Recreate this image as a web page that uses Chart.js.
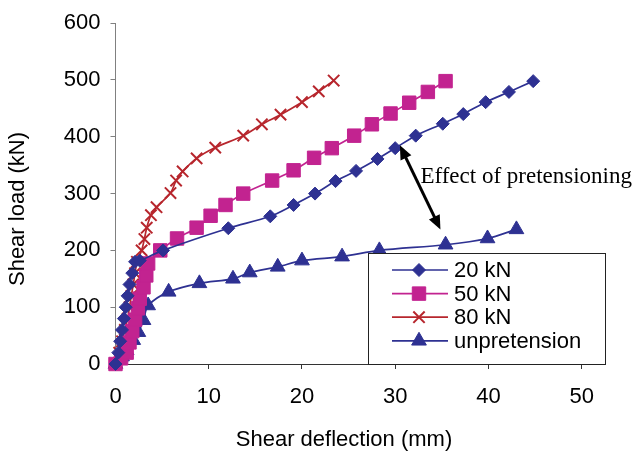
<!DOCTYPE html>
<html>
<head>
<meta charset="utf-8">
<title>Shear load vs shear deflection</title>
<script src="https://cdn.jsdelivr.net/npm/chart.js@4.4.1/dist/chart.umd.min.js"></script>
<style>
  html, body { margin: 0; padding: 0; background: #fff; }
  #wrap { width: 638px; height: 452px; position: relative; }
</style>
</head>
<body>
<div id="wrap"><canvas id="shearChart"></canvas></div>
<script>
// values: deflection in mm, load in kN
const kN20Defl = [0, 0.3, 0.5, 0.7, 0.9, 1.1, 1.3, 1.5, 1.8, 2.1, 2.6, 5.1, 12.1, 16.6, 19.1, 21.4, 23.6, 25.8, 28.1, 30.0, 32.2, 35.1, 37.3, 39.7, 42.2, 44.8];
const kN20Load = [0, 20, 40, 60, 80, 100, 120, 140, 160, 180, 182, 200, 239, 260, 280, 300, 322, 340, 361, 380, 402, 423, 440, 461, 479, 498];

const kN50Defl = [0, 0.6, 1.2, 1.5, 1.8, 2.1, 2.4, 2.6, 3.0, 3.3, 3.5, 4.8, 6.6, 8.7, 10.2, 11.8, 13.7, 16.8, 19.1, 21.3, 23.2, 25.6, 27.5, 29.5, 31.5, 33.5, 35.4];
const kN50Load = [0, 10, 20, 38, 58, 78, 98, 115, 135, 156, 177, 200, 221, 240, 261, 280, 300, 323, 341, 363, 380, 402, 422, 441, 460, 479, 498];

const kN80Defl = [0, 0.4, 0.7, 1.0, 1.3, 1.5, 1.7, 1.9, 2.1, 2.3, 2.8, 3.1, 3.35, 3.8, 4.4, 5.9, 6.5, 7.2, 8.7, 10.7, 13.7, 15.7, 17.7, 20.0, 21.8, 23.4];
const kN80Load = [0, 20, 40, 60, 80, 100, 120, 140, 160, 180, 200, 220, 240, 262, 276, 301, 323, 339, 362, 381, 402, 422, 439, 461, 480, 499];

const unpreDefl = [0, 0.7, 1.2, 1.9, 2.45, 3.0, 3.5, 5.7, 9.0, 12.6, 14.4, 17.4, 20.0, 24.3, 28.3, 35.4, 39.9, 43.0];
const unpreLoad = [0, 13, 24, 42, 56, 77, 103, 127, 142, 150, 161, 171, 182, 189, 200, 210, 221, 237];

const seriesNames = ['20 kN', '50 kN', '80 kN', 'unpretension'];
const xTickValues = [0, 10, 20, 30, 40, 50];
const yTickValues = [0, 100, 200, 300, 400, 500, 600];

const xTitle = 'Shear deflection (mm)';
const yTitle = 'Shear load (kN)';
const noteText = 'Effect of pretensioning';

const NAVY = '#2E3192';
const MAGENTA = '#C22390';
const RED = '#B7262D';

function toPoints(xs, ys) {
    return xs.map((x, i) => ({ x: x, y: ys[i] }));
}

function series(label, xs, ys, color, style, radius, bw) {
    return {
        label: label,
        data: toPoints(xs, ys),
        showLine: true,
        borderColor: color,
        backgroundColor: color,
        borderWidth: 1.7,
        tension: 0.3,
        pointStyle: style,
        pointRadius: radius,
        pointBorderWidth: bw,
        pointBackgroundColor: color,
        pointBorderColor: color,
        clip: false
    };
}

// --- legend box drawn inside the plot, like the original ---
const boxLegend = {
    id: 'boxLegend',
    afterDatasetsDraw(chart) {
        const ctx = chart.ctx;
        const area = chart.chartArea;
        const left = 368, top = 253;
        ctx.save();
        ctx.fillStyle = '#fff';
        ctx.fillRect(left, top, area.right - left, area.bottom - top);
        ctx.strokeStyle = '#222';
        ctx.lineWidth = 1;
        ctx.strokeRect(left + 0.5, top + 0.5, area.right - left, area.bottom - top);
        ctx.font = '22px "Liberation Sans", Arial, sans-serif';
        ctx.textBaseline = 'middle';
        chart.data.datasets.forEach((ds, i) => {
            const y = 270 + i * 23.6;
            ctx.strokeStyle = ds.borderColor;
            ctx.lineWidth = ds.borderWidth;
            ctx.beginPath();
            ctx.moveTo(392, y);
            ctx.lineTo(448, y);
            ctx.stroke();
            ctx.fillStyle = ds.pointBackgroundColor;
            ctx.lineWidth = ds.pointBorderWidth;
            Chart.helpers.drawPoint(ctx, { pointStyle: ds.pointStyle, radius: ds.pointRadius, borderWidth: ds.pointBorderWidth, rotation: 0 }, 419, y);
            ctx.fillStyle = '#000';
            ctx.fillText(ds.label, 454, y + 1);
        });
        ctx.restore();
    }
};

// --- axis titles, arrow and note ---
function arrowHead(ctx, tipX, tipY, fromX, fromY) {
    const ang = Math.atan2(tipY - fromY, tipX - fromX);
    const len = 14, half = 6;
    ctx.beginPath();
    ctx.moveTo(tipX, tipY);
    ctx.lineTo(tipX - len * Math.cos(ang) + half * Math.sin(ang), tipY - len * Math.sin(ang) - half * Math.cos(ang));
    ctx.lineTo(tipX - len * Math.cos(ang) - half * Math.sin(ang), tipY - len * Math.sin(ang) + half * Math.cos(ang));
    ctx.closePath();
    ctx.fillStyle = '#000';
    ctx.fill();
}

const extras = {
    id: 'extras',
    afterDraw(chart) {
        const ctx = chart.ctx;
        const xs = chart.scales.x, ys = chart.scales.y;
        ctx.save();
        ctx.fillStyle = '#000';
        ctx.font = '22px "Liberation Sans", Arial, sans-serif';
        ctx.textAlign = 'center';
        ctx.textBaseline = 'middle';
        ctx.fillText(xTitle, 344, 440);
        ctx.translate(18, 209);
        ctx.rotate(-Math.PI / 2);
        ctx.fillText(yTitle, 0, 0);
        ctx.restore();

        // double-headed arrow between 20 kN and unpretension curves
        const x1 = xs.getPixelForValue(30.5), y1 = ys.getPixelForValue(385);
        const x2 = xs.getPixelForValue(34.85), y2 = ys.getPixelForValue(237);
        ctx.save();
        ctx.strokeStyle = '#000';
        ctx.lineWidth = 3;
        const ang = Math.atan2(y2 - y1, x2 - x1);
        ctx.beginPath();
        ctx.moveTo(x1 + 10 * Math.cos(ang), y1 + 10 * Math.sin(ang));
        ctx.lineTo(x2 - 10 * Math.cos(ang), y2 - 10 * Math.sin(ang));
        ctx.stroke();
        arrowHead(ctx, x1, y1, x2, y2);
        arrowHead(ctx, x2, y2, x1, y1);

        ctx.font = '23px "Liberation Serif", "Times New Roman", serif';
        ctx.textAlign = 'left';
        ctx.textBaseline = 'alphabetic';
        ctx.fillStyle = '#000';
        ctx.fillText(noteText, xs.getPixelForValue(32.7), ys.getPixelForValue(319));
        ctx.restore();
    }
};

new Chart(document.getElementById('shearChart'), {
    type: 'scatter',
    data: {
        datasets: [
            series(seriesNames[0], kN20Defl, kN20Load, NAVY, 'rectRot', 6.5, 1),
            series(seriesNames[1], kN50Defl, kN50Load, MAGENTA, 'rect', 9.5, 1),
            series(seriesNames[2], kN80Defl, kN80Load, RED, 'crossRot', 8, 2),
            series(seriesNames[3], unpreDefl, unpreLoad, NAVY, 'triangle', 8.5, 1)
        ]
    },
    options: {
        responsive: true,
        maintainAspectRatio: false,
        animation: false,
        devicePixelRatio: 1,
        layout: { padding: { top: 20, right: 33, left: 0, bottom: 0 } },
        plugins: {
            legend: { display: false },
            tooltip: { enabled: false }
        },
        scales: {
            x: {
                type: 'linear',
                min: 0,
                max: 52.5,
                afterBuildTicks: axis => { axis.ticks = xTickValues.map(v => ({ value: v })); },
                afterFit: axis => { axis.height = 88; },
                grid: { drawOnChartArea: false, drawTicks: true, tickLength: 5, color: '#333' },
                border: { display: true, color: '#333', width: 1 },
                ticks: {
                    color: '#000',
                    padding: 15,
                    maxRotation: 0,
                    font: { family: '"Liberation Sans", Arial, sans-serif', size: 22 }
                }
            },
            y: {
                type: 'linear',
                min: 0,
                max: 600,
                afterBuildTicks: axis => { axis.ticks = yTickValues.map(v => ({ value: v })); },
                afterFit: axis => { axis.width = 115.5; },
                grid: { drawOnChartArea: false, drawTicks: true, tickLength: 5, color: '#808080' },
                border: { display: true, color: '#808080', width: 1 },
                ticks: {
                    color: '#000',
                    padding: 10,
                    font: { family: '"Liberation Sans", Arial, sans-serif', size: 22 }
                }
            }
        }
    },
    plugins: [boxLegend, extras]
});
</script>
</body>
</html>
